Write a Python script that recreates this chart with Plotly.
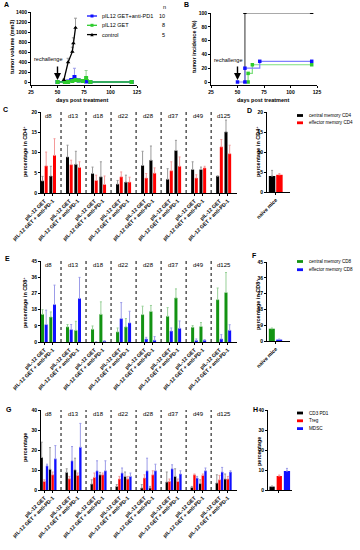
import plotly.graph_objects as go

# ---------------- data ----------------
# Panel A: tumour volume after rechallenge (mean and upper SD)
a_days_combo = [50, 57, 60, 63, 66, 70, 77, 81, 120]
a_vol_combo = [0, 0, 10, 40, 100, 30, 10, 0, 0]
a_err_combo = [0, 0, 10, 30, 175, 30, 10, 0, 0]
a_days_get = [50, 57, 60, 64, 67, 70, 74, 77, 81, 120]
a_vol_get = [0, 0, 0, 20, 40, 30, 20, 80, 0, 0]
a_err_get = [0, 0, 0, 20, 30, 20, 10, 150, 0, 0]
a_days_ctrl = [56, 60, 64, 65, 67]
a_vol_ctrl = [40, 394, 606, 774, 1086]
a_err_ctrl = [20, 80, 90, 110, 190]
a_series = ["pIL12 GET+anti-PD1", "pIL12 GET", "control"]
a_n = ["10", "8", "5"]

# Panel B: tumour incidence (%)
b_days_combo = [50, 57, 57, 71, 120]
b_inc_combo = [0, 0, 20, 30, 30]
b_days_get = [60, 60, 64, 120]
b_inc_get = [0, 12.5, 25, 25]
b_days_ctrl = [57, 57, 120]
b_inc_ctrl = [0, 100, 100]

# Panels C-H: groups and treatments
groups = ["d8", "d13", "d18", "d22", "d28", "d37", "d49", "d125"]
treatments = ["pIL-12 GET", "pIL-12 GET + anti-PD-1"]
naive_label = "naive mice"

# C: CD4 memory (% of CD4+)
c_cm = [3.0, 4.2, 8.9, 7.1, 4.8, 4.0, 2.2, 2.7, 6.8, 8.1, 3.4, 10.5, 5.8, 5.8, 4.2, 15.1]
c_cm_err = [1.1, 2.4, 2.9, 3.2, 1.6, 3.7, 0.9, 1.7, 3.5, 3.5, 2.6, 2.5, 1.9, 0.6, 0.0, 2.9]
c_em = [6.7, 9.3, 7.0, 6.3, 3.1, 2.1, 4.0, 2.7, 3.7, 4.9, 5.5, 6.6, 3.7, 6.2, 11.4, 9.7]
c_em_err = [3.4, 4.1, 1.1, 1.4, 1.3, 2.1, 1.2, 1.2, 1.1, 1.3, 2.2, 2.3, 0.8, 0.4, 1.8, 2.1]
c_series = ["central memory CD4", "effector memory CD4"]
# D: naive mice CD4
d_cm, d_cm_err = [4.0], [1.4]
d_em, d_em_err = [4.3], [0.3]

# E: CD8 memory (% of CD8+)
e_cm = [15.4, 13.9, 8.4, 6.5, 7.1, 15.4, 5.6, 8.4, 15.2, 17.0, 14.3, 24.5, 8.2, 8.6, 23.5, 27.5]
e_cm_err = [2.6, 2.8, 1.3, 5.0, 1.8, 6.9, 2.2, 4.6, 4.7, 3.3, 4.8, 5.0, 0.9, 2.2, 6.5, 11.1]
e_em = [9.7, 20.8, 6.9, 24.2, 0.0, 0.5, 13.0, 10.6, 1.7, 1.0, 6.1, 7.6, 0.9, 1.0, 1.7, 6.5]
e_em_err = [8.0, 10.8, 2.8, 11.7, 0.0, 0.2, 8.9, 6.5, 0.9, 2.0, 1.7, 4.1, 0.8, 0.3, 2.4, 3.1]
e_series = ["central memory CD8", "effector memory CD8"]
# F: naive mice CD8
f_cm, f_cm_err = [7.0], [0.4]
f_em, f_em_err = [0.8], [0.3]

# G: CD3 PD1 / Treg / MDSC (%)
g_pd1 = [16.3, 10.4, 8.8, 10.1, 3.0, 7.6, 1.8, 6.8, 1.0, 1.0, 4.0, 6.8, 1.3, 3.2, 3.5, 5.5]
g_pd1_err = [7.6, 10.8, 1.8, 5.8, 2.1, 1.2, 0.9, 2.2, 1.7, 0.8, 5.0, 3.8, 0.5, 1.9, 4.1, 2.5]
g_treg = [4.3, 7.6, 5.6, 7.3, 6.3, 7.6, 5.5, 5.5, 6.0, 7.6, 4.3, 4.3, 7.6, 7.3, 5.1, 5.5]
g_treg_err = [0.8, 1.4, 1.2, 1.2, 2.2, 0.9, 1.3, 1.3, 1.6, 2.0, 1.2, 1.2, 0.4, 0.7, 2.2, 1.3]
g_mdsc = [12.1, 15.6, 14.6, 21.4, 9.6, 9.6, 8.5, 6.8, 9.6, 9.6, 10.6, 8.0, 6.0, 9.6, 9.0, 9.0]
g_mdsc_err = [0.8, 6.6, 7.1, 11.9, 5.0, 5.0, 2.5, 1.7, 6.3, 3.3, 2.0, 1.6, 0.8, 1.4, 2.3, 0.6]
g_series = ["CD3 PD1", "Treg", "MDSC"]
# H: naive mice
h_pd1, h_pd1_err = [1.7], [0.3]
h_treg, h_treg_err = [7.0], [0.5]
h_mdsc, h_mdsc_err = [9.5], [1.3]

# ---------------- layout helpers ----------------
W, H = 360, 550
FONT = "Liberation Sans, Arial, sans-serif"
BLACK, RED, BLUE = "#000000", "#ff0000", "#1010ff"
GREEN_L, GREEN_B = "#2ecc2e", "#139313"
E_GREY, E_PINK, E_LGREEN, E_LBLUE = "#9a9a9a", "#f49a9a", "#98d098", "#9c9ce8"


def px(x):
    return x / W


def py(y):
    return 1 - y / H


def xdom(a, b):
    return [a / W, b / W]


def ydom(top, bot):
    return [1 - bot / H, 1 - top / H]


fig = go.Figure()

slots = [3 * g + t for g in range(len(groups)) for t in range(len(treatments))]
ticktext = [treatments[t] for g in range(len(groups)) for t in range(len(treatments))]


def bars(n, xs, vals, errs, color, ecolor, offset, width):
    fig.add_trace(go.Bar(
        x=xs, y=vals, xaxis="x%d" % n, yaxis="y%d" % n, offset=offset, width=width,
        marker=dict(color=color, line=dict(width=0)),
        error_y=dict(type="data", array=errs, arrayminus=[0] * len(vals), symmetric=False,
                     color=ecolor, thickness=1, width=1),
        showlegend=False, hoverinfo="skip"))


# ---- Panel A ----
for d, v, e, c, ec, sym in [
    (a_days_combo, a_vol_combo, a_err_combo, BLUE, E_LBLUE, "square"),
    (a_days_get, a_vol_get, a_err_get, GREEN_L, E_LGREEN, "square"),
    (a_days_ctrl, a_vol_ctrl, a_err_ctrl, BLACK, E_GREY, "triangle-up"),
]:
    fig.add_trace(go.Scatter(
        x=d, y=v, xaxis="x", yaxis="y", mode="lines+markers",
        line=dict(color=c, width=1.3), marker=dict(color=c, size=4, symbol=sym),
        error_y=dict(type="data", array=e, arrayminus=[0] * len(v), symmetric=False,
                     color=ec, thickness=1, width=1.5),
        showlegend=False, hoverinfo="skip"))

# ---- Panel B ----
for d, v, c, lc, sym in [
    (b_days_ctrl, b_inc_ctrl, BLACK, "#555555", "triangle-up"),
    (b_days_get, b_inc_get, GREEN_L, "#7fe07f", "square"),
    (b_days_combo, b_inc_combo, BLUE, "#8080ff", "square"),
]:
    fig.add_trace(go.Scatter(
        x=d, y=v, xaxis="x2", yaxis="y2", mode="lines+markers", line_shape="hv",
        line=dict(color=lc, width=1.2), marker=dict(color=c, size=3.5, symbol=sym),
        showlegend=False, hoverinfo="skip"))

# ---- Panel C / D ----
bars(3, slots, c_cm, c_cm_err, BLACK, E_GREY, -0.40, 0.36)
bars(3, slots, c_em, c_em_err, RED, E_PINK, 0.04, 0.36)
bars(4, [0], d_cm, d_cm_err, BLACK, E_GREY, 0.08, 0.28)
bars(4, [0], d_em, d_em_err, RED, E_PINK, 0.40, 0.28)

# ---- Panel E / F ----
bars(5, slots, e_cm, e_cm_err, GREEN_B, E_LGREEN, -0.40, 0.36)
bars(5, slots, e_em, e_em_err, BLUE, E_LBLUE, 0.04, 0.36)
bars(6, [0], f_cm, f_cm_err, GREEN_B, E_LGREEN, 0.08, 0.26)
bars(6, [0], f_em, f_em_err, BLUE, E_LBLUE, 0.40, 0.26)

# ---- Panel G / H ----
bars(7, slots, g_pd1, g_pd1_err, BLACK, E_GREY, -0.46, 0.28)
bars(7, slots, g_treg, g_treg_err, RED, E_PINK, -0.14, 0.28)
bars(7, slots, g_mdsc, g_mdsc_err, BLUE, E_LBLUE, 0.18, 0.28)
bars(8, [0], h_pd1, h_pd1_err, BLACK, E_GREY, 0.06, 0.22)
bars(8, [0], h_treg, h_treg_err, RED, E_PINK, 0.36, 0.22)
bars(8, [0], h_mdsc, h_mdsc_err, BLUE, E_LBLUE, 0.66, 0.26)


def ax(**kw):
    d = dict(showline=True, linecolor="black", linewidth=1, ticks="outside", ticklen=2,
             tickwidth=1, tickcolor="black", showgrid=False, zeroline=False, automargin=False,
             tickfont=dict(family=FONT, size=5, color="#000000", weight="bold"), fixedrange=True)
    d.update(kw)
    return d


rot_font = dict(family=FONT, size=5.2, color="#000000", weight="bold")
bar_x = dict(range=[-0.4, 23.1], tickvals=slots, ticktext=ticktext, tickangle=-45,
             tickfont=rot_font, ticklen=2)
naive_x = dict(range=[0, 1], tickvals=[0.38], ticktext=[naive_label], tickangle=-45,
               tickfont=rot_font, ticklen=2)

fig.update_layout(
    template="none",
    width=W, height=H, margin=dict(l=0, r=0, t=0, b=0, autoexpand=False),
    paper_bgcolor="white", plot_bgcolor="white", barmode="overlay",
    font=dict(family=FONT, color="#000000"),
    xaxis=ax(domain=xdom(31, 137), anchor="y", range=[25, 125], tickvals=[25, 50, 75, 100, 125]),
    yaxis=ax(domain=ydom(12, 85), anchor="x", range=[-60, 1400], tickvals=list(range(0, 1401, 200))),
    xaxis2=ax(domain=xdom(211, 317), anchor="y2", range=[25, 125], tickvals=[25, 50, 75, 100, 125]),
    yaxis2=ax(domain=ydom(13, 85), anchor="x2", range=[-4.35, 100], tickvals=[0, 20, 40, 60, 80, 100]),
    xaxis3=ax(domain=xdom(41, 237), anchor="y3", **bar_x),
    yaxis3=ax(domain=ydom(112, 193), anchor="x3", range=[0, 20], tickvals=[0, 5, 10, 15, 20]),
    xaxis4=ax(domain=xdom(267, 290), anchor="y4", **naive_x),
    yaxis4=ax(domain=ydom(112, 192), anchor="x4", range=[0, 20], tickvals=[0, 5, 10, 15, 20]),
    xaxis5=ax(domain=xdom(41, 237), anchor="y5", **bar_x),
    yaxis5=ax(domain=ydom(261, 342), anchor="x5", range=[0, 45], tickvals=[0, 9, 18, 27, 36, 45]),
    xaxis6=ax(domain=xdom(267, 290), anchor="y6", **naive_x),
    yaxis6=ax(domain=ydom(262, 341), anchor="x6", range=[0, 45], tickvals=[0, 9, 18, 27, 36, 45]),
    xaxis7=ax(domain=xdom(41, 237), anchor="y7", **bar_x),
    yaxis7=ax(domain=ydom(410, 490), anchor="x7", range=[0, 40], tickvals=[0, 10, 20, 30, 40]),
    xaxis8=ax(domain=xdom(268, 292), anchor="y8", range=[0, 1], tickvals=[0.45], showticklabels=False),
    yaxis8=ax(domain=ydom(410, 490), anchor="x8", range=[0, 40], tickvals=[0, 10, 20, 30, 40]),
)

ann = []
shapes = []


def text(x, y, s, size=5.5, bold=False, angle=0, anchor="center", color="#000000"):
    ann.append(dict(x=px(x), y=py(y), xref="paper", yref="paper", text=s, showarrow=False,
                    textangle=angle, xanchor=anchor, yanchor="middle",
                    font=dict(family=FONT, size=size, color=color, weight="bold" if bold else "normal")))


# panel letters
for lab, x, y in [("A", 6, 4), ("B", 186, 5), ("C", 5, 110), ("D", 249, 111),
                  ("E", 7, 258), ("F", 254, 255), ("G", 9, 409), ("H", 255, 409)]:
    text(x, y, lab, size=7, bold=True)

# axis titles
text(12, 47, "tumor volume (mm3)", size=5.5, bold=True, angle=-90)
text(82, 99.5, "days post treatment", size=5.5, bold=True)
text(194, 47, "tumor incidence (%)", size=5.5, bold=True, angle=-90)
text(263, 99.5, "days post treatment", size=5.5, bold=True)
text(25, 152, "percentage in CD4<sup>+</sup>", size=5.5, bold=True, angle=-90)
text(258, 152, "percentage in CD4<sup>+</sup>", size=5.5, bold=True, angle=-90)
text(25, 303, "percentage in CD8<sup>+</sup>", size=5.5, bold=True, angle=-90)
text(258, 305, "percentage in CD8<sup>+</sup>", size=5.5, bold=True, angle=-90)
text(25, 448, "percentage", size=5.5, bold=True, angle=-90)
text(259, 452, "percentage", size=5.5, bold=True, angle=-90)

# rechallenge arrows
text(48, 59.5, "rechallenge", size=5.5)
text(228, 60, "rechallenge", size=5.5)
ann.append(dict(x=50, y=40, xref="x", yref="y", ax=0, ay=-15, text="", showarrow=True,
                arrowhead=2, arrowsize=1, arrowwidth=1.4, arrowcolor="black"))
ann.append(dict(x=50, y=3, xref="x2", yref="y2", ax=0, ay=-15, text="", showarrow=True,
                arrowhead=2, arrowsize=1, arrowwidth=1.4, arrowcolor="black"))

# legend A
text(164, 7, "n", size=5.5)
for i, (name, n, c) in enumerate(zip(a_series, a_n, [BLUE, GREEN_L, BLACK])):
    y = 16 + 9.3 * i
    shapes.append(dict(type="line", xref="paper", yref="paper", x0=px(87), x1=px(97),
                       y0=py(y), y1=py(y), line=dict(color=c, width=1.3)))
    if i < 2:
        shapes.append(dict(type="rect", xref="paper", yref="paper", x0=px(90.5), x1=px(93.5),
                           y0=py(y + 1.5), y1=py(y - 1.5), line=dict(width=0), fillcolor=c))
    else:
        shapes.append(dict(type="path", xref="paper", yref="paper",
                           path="M %f %f L %f %f L %f %f Z" % (px(90.3), py(y + 1.6), px(93.7), py(y + 1.6), px(92), py(y - 1.8)),
                           line=dict(width=0), fillcolor=c))
    text(100, y, name, size=5.5, anchor="left")
    text(167, y, n, size=5.5, anchor="right")


# legends C/E/G
def legend(entries, y0, step):
    for i, (name, c) in enumerate(entries):
        y = y0 + step * i
        shapes.append(dict(type="rect", xref="paper", yref="paper", x0=px(297), x1=px(303),
                           y0=py(y + 1.4), y1=py(y - 1.4), line=dict(width=0), fillcolor=c))
        text(307, y, name, size=4.6, anchor="left")


legend(list(zip(c_series, [BLACK, RED])), 115.5, 7.3)
legend(list(zip(e_series, [GREEN_B, BLUE])), 261.5, 8.2)
legend(list(zip(g_series, [BLACK, RED, BLUE])), 413, 7.8)

# group labels and dotted separators
for n, ytop in [(3, 0.955), (5, 0.95), (7, 0.955)]:
    for gi, g in enumerate(groups):
        ann.append(dict(x=3 * gi + 0.5, y=ytop, xref="x%d" % n, yref="y%d domain" % n, text=g,
                        showarrow=False, xanchor="center", yanchor="middle",
                        font=dict(family=FONT, size=6, color="#000000")))
        if gi < len(groups) - 1:
            shapes.append(dict(type="line", xref="x%d" % n, yref="y%d domain" % n,
                               x0=3 * gi + 2, x1=3 * gi + 2, y0=0, y1=1,
                               line=dict(color="black", width=1, dash="dot")))

fig.update_layout(annotations=ann, shapes=shapes)
fig.write_html("out.html", config={"displayModeBar": False, "staticPlot": True},
               post_script="document.body.style.margin='0';")
